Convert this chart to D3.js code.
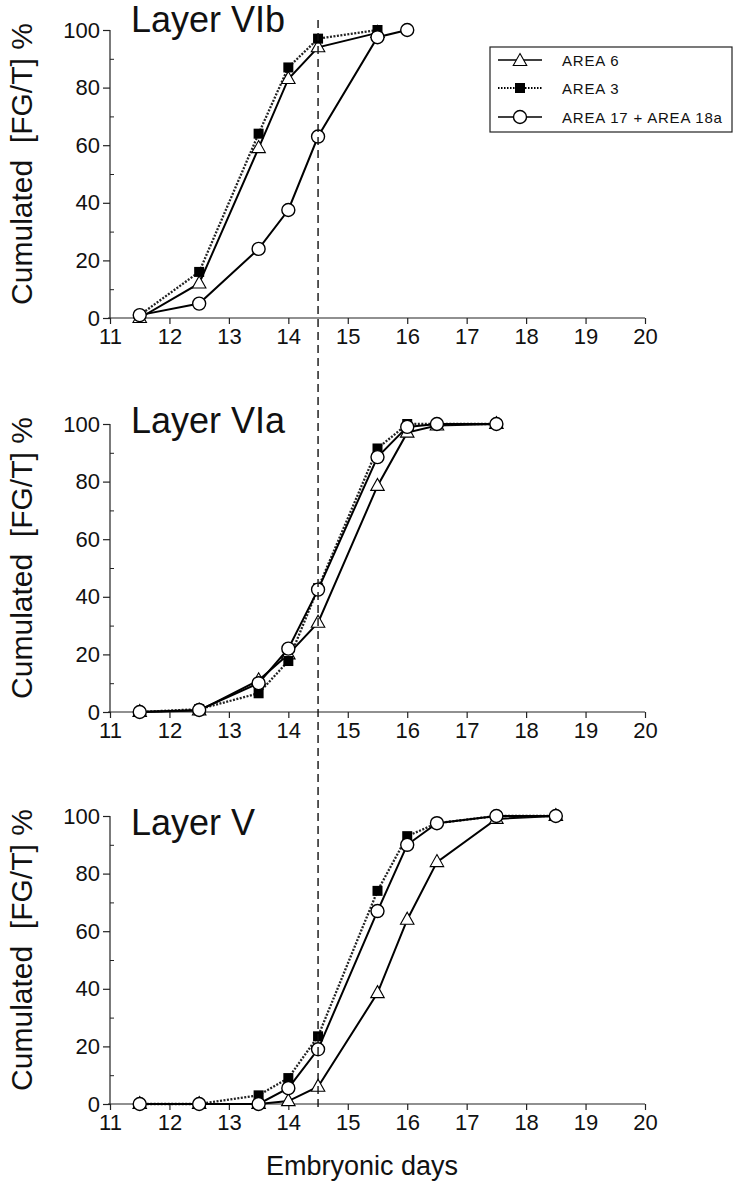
<!DOCTYPE html>
<html><head><meta charset="utf-8">
<script src="https://cdn.jsdelivr.net/npm/d3@7"></script>
<style>body{margin:0;background:#fff}svg{display:block;font-family:"Liberation Sans",Arial,sans-serif}</style>
</head><body><svg id="c" width="741" height="1199"></svg>
<script>
// ---- data ----
const panelTitles = ["Layer VIb", "Layer VIa", "Layer V"];
const seriesNames = ["AREA 6", "AREA 3", "AREA 17 + AREA 18a"];
const xTicks = [11, 12, 13, 14, 15, 16, 17, 18, 19, 20];
const yTicks = [0, 20, 40, 60, 80, 100];
const markerDay = 14.5;

const daysVIb = [11.5, 12.5, 13.5, 14, 14.5, 15.5];
const daysVIb17 = [11.5, 12.5, 13.5, 14, 14.5, 15.5, 16];
const area6VIb = [0, 12, 59, 83, 94, 99];
const area3VIb = [1, 16, 64, 87, 97, 100];
const area17VIb = [1, 5, 24, 37.5, 63, 97.5, 100];

const daysVIa = [11.5, 12.5, 13.5, 14, 14.5, 15.5, 16, 16.5, 17.5];
const area6VIa = [0, 0.5, 11, 20, 31, 78.5, 97, 99.5, 100];
const area3VIa = [0, 1, 6.5, 17.7, 43, 91.5, 100, 100, 100];
const area17VIa = [0, 0.7, 10, 22, 42.5, 88.5, 99, 100, 100];

const daysV = [11.5, 12.5, 13.5, 14, 14.5, 15.5, 16, 16.5, 17.5, 18.5];
const area6V = [0, 0, 0, 1, 6, 38.5, 64, 84, 99, 100];
const area3V = [0, 0, 3, 9, 23.5, 74, 93, 97.5, 100, 100];
const area17V = [0, 0, 0, 5.5, 19, 67, 90, 97.5, 100, 100];

const panels = [
  {title: panelTitles[0], series: [[daysVIb, area6VIb], [daysVIb, area3VIb], [daysVIb17, area17VIb]]},
  {title: panelTitles[1], series: [[daysVIa, area6VIa], [daysVIa, area3VIa], [daysVIa, area17VIa]]},
  {title: panelTitles[2], series: [[daysV, area6V], [daysV, area3V], [daysV, area17V]]}
];

// ---- layout ----
const svg = d3.select("#c");
const left = 110, right = 645, ph = 288;
const tops = [30, 424, 816];
const titleDy = [2, 9, 19];
const x = d3.scaleLinear().domain([11, 20]).range([left, right]);

const styles = [
  {dash: null, marker: "tri"},
  {dash: "2,1.5", marker: "sq"},
  {dash: null, marker: "circ"}
];

function drawMarker(g, type, cx, cy) {
  if (type === "tri") {
    const s = 7.5;
    g.append("path").attr("d", `M${cx},${cy - s}L${cx + s * 0.9},${cy + s * 0.6}L${cx - s * 0.9},${cy + s * 0.6}Z`)
      .attr("fill", "#fff").attr("stroke", "#000").attr("stroke-width", 1.1);
  } else if (type === "sq") {
    g.append("rect").attr("x", cx - 5).attr("y", cy - 5).attr("width", 10).attr("height", 10).attr("fill", "#000");
  } else {
    g.append("circle").attr("cx", cx).attr("cy", cy).attr("r", 6.5)
      .attr("fill", "#fff").attr("stroke", "#000").attr("stroke-width", 1.4);
  }
}

panels.forEach((p, i) => {
  const top = tops[i], bottom = top + ph;
  const y = d3.scaleLinear().domain([0, 100]).range([bottom, top]);
  const g = svg.append("g");

  // x axis
  const xa = g.append("g").attr("transform", `translate(0,${bottom})`)
    .call(d3.axisBottom(x).tickValues(xTicks).tickSize(6).tickPadding(4).tickFormat(d3.format("d")));
  xa.select(".domain").attr("d", `M${left - 2},0H${right}`).attr("stroke", "#222").attr("stroke-width", 1.2);
  xa.selectAll(".tick line").attr("stroke", "#222").attr("stroke-width", 1.2);
  xa.selectAll("text").attr("font-size", 22).attr("fill", "#111");

  // y axis
  const ya = g.append("g").attr("transform", `translate(${left},0)`)
    .call(d3.axisLeft(y).tickValues(yTicks).tickSize(7).tickPadding(3));
  ya.select(".domain").attr("d", `M0,${bottom}V${top}`).attr("stroke", "#222").attr("stroke-width", 1.2);
  ya.selectAll(".tick line").attr("stroke", "#222").attr("stroke-width", 1.2);
  ya.selectAll("text").attr("font-size", 22).attr("fill", "#111");
  // minor ticks
  g.append("g").attr("transform", `translate(${left},0)`)
    .call(d3.axisRight(y).tickValues([10, 30, 50, 70, 90]).tickSize(4).tickFormat(""))
    .call(a => a.select(".domain").remove())
    .selectAll(".tick line").attr("stroke", "#222").attr("stroke-width", 1);

  // y label
  g.append("text").attr("transform", `translate(32,${(top + bottom) / 2 - 10}) rotate(-90)`)
    .attr("text-anchor", "middle").attr("font-size", 30).attr("fill", "#111")
    .style("white-space", "pre").text("Cumulated  [FG/T] %");

  // title
  g.append("text").attr("x", 131).attr("y", top + titleDy[i]).attr("font-size", 36).attr("fill", "#111").text(p.title);

  // series
  const line = d3.line().x(d => x(d[0])).y(d => y(d[1]));
  p.series.forEach((s, k) => {
    const pts = s[0].map((d, j) => [d, s[1][j]]);
    const path = g.append("path").attr("d", line(pts)).attr("fill", "none").attr("stroke", "#000")
      .attr("stroke-width", k === 1 ? 2.3 : 2);
    if (styles[k].dash) path.attr("stroke-dasharray", styles[k].dash).attr("stroke", "#222");
  });
  p.series.forEach((s, k) => {
    s[0].forEach((d, j) => drawMarker(g, styles[k].marker, x(d), y(s[1][j])));
  });
});

// dashed vertical line
svg.append("line").attr("x1", x(markerDay)).attr("x2", x(markerDay)).attr("y1", 20).attr("y2", 1110)
  .attr("stroke", "#111").attr("stroke-width", 1.4).attr("stroke-dasharray", "8,5");

// x label
svg.append("text").attr("x", 362).attr("y", 1175).attr("text-anchor", "middle")
  .attr("font-size", 27).attr("fill", "#111").text("Embryonic days");

// legend
const lg = svg.append("g");
lg.append("rect").attr("x", 490).attr("y", 47).attr("width", 242).attr("height", 85)
  .attr("fill", "#fff").attr("stroke", "#222").attr("stroke-width", 1.2);
const legY = [60, 88, 117];
seriesNames.forEach((n, k) => {
  const l = lg.append("line").attr("x1", 498).attr("x2", 542).attr("y1", legY[k]).attr("y2", legY[k])
    .attr("stroke", "#000").attr("stroke-width", k === 1 ? 2 : 1.6);
  if (styles[k].dash) l.attr("stroke-dasharray", "1.5,1.5");
  drawMarker(lg, styles[k].marker, 520, legY[k] + (k === 0 ? 1 : 0));
  lg.append("text").attr("x", 562).attr("y", legY[k] + 5.5).attr("font-size", 15)
    .attr("letter-spacing", 0.8).attr("fill", "#111").text(n);
});
</script></body></html>
